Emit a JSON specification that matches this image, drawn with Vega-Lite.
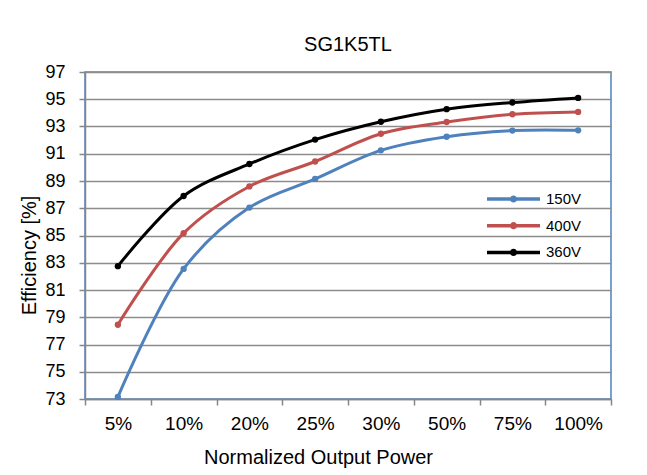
{
  "$schema": "https://vega.github.io/schema/vega-lite/v6.json",
  "width": 526,
  "height": 327,
  "autosize": {"type": "none"},
  "padding": {"left": 85, "top": 72, "right": 36, "bottom": 76},
  "background": "white",
  "title": {
    "text": "SG1K5TL",
    "fontSize": 20,
    "font": "Liberation Sans",
    "fontWeight": "normal",
    "color": "#000000",
    "anchor": "middle",
    "baseline": "alphabetic",
    "offset": 19,
    "dy": 27
  },
  "config": {
    "font": "Liberation Sans",
    "view": {"stroke": "#4F81BD", "strokeWidth": 1.5},
    "axis": {
      "labelFont": "Liberation Sans",
      "titleFont": "Liberation Sans",
      "labelColor": "#000000",
      "titleColor": "#000000",
      "titleFontWeight": "normal",
      "domainColor": "#868686",
      "domainWidth": 1.5,
      "tickColor": "#868686",
      "tickWidth": 1.5,
      "tickSize": 6,
      "gridColor": "#8c8c8c",
      "gridWidth": 1.5,
      "gridOpacity": 1
    },
    "legend": {
      "labelFont": "Liberation Sans",
      "labelFontSize": 15,
      "labelColor": "#000000"
    }
  },
  "data": {
    "values": [
      {"power": "5%", "series": "150V", "eff": 73.15},
      {"power": "10%", "series": "150V", "eff": 82.55},
      {"power": "20%", "series": "150V", "eff": 87.05},
      {"power": "25%", "series": "150V", "eff": 89.15},
      {"power": "30%", "series": "150V", "eff": 91.25},
      {"power": "50%", "series": "150V", "eff": 92.25},
      {"power": "75%", "series": "150V", "eff": 92.7},
      {"power": "100%", "series": "150V", "eff": 92.72},
      {"power": "5%", "series": "400V", "eff": 78.45},
      {"power": "10%", "series": "400V", "eff": 85.17},
      {"power": "20%", "series": "400V", "eff": 88.6},
      {"power": "25%", "series": "400V", "eff": 90.43},
      {"power": "30%", "series": "400V", "eff": 92.47},
      {"power": "50%", "series": "400V", "eff": 93.33},
      {"power": "75%", "series": "400V", "eff": 93.9},
      {"power": "100%", "series": "400V", "eff": 94.07},
      {"power": "5%", "series": "360V", "eff": 82.75},
      {"power": "10%", "series": "360V", "eff": 87.9},
      {"power": "20%", "series": "360V", "eff": 90.25},
      {"power": "25%", "series": "360V", "eff": 92.04},
      {"power": "30%", "series": "360V", "eff": 93.35},
      {"power": "50%", "series": "360V", "eff": 94.27},
      {"power": "75%", "series": "360V", "eff": 94.76},
      {"power": "100%", "series": "360V", "eff": 95.1}
    ]
  },
  "mark": {
    "type": "line",
    "interpolate": "catmull-rom",
    "strokeWidth": 3,
    "point": {"filled": true, "size": 40, "opacity": 1}
  },
  "encoding": {
    "x": {
      "field": "power",
      "type": "ordinal",
      "sort": ["5%", "10%", "20%", "25%", "30%", "50%", "75%", "100%"],
      "bandPosition": 0.5,
      "scale": {"type": "band", "paddingInner": 0, "paddingOuter": 0},
      "axis": {
        "title": "Normalized Output Power",
        "titleFontSize": 20,
        "titleBaseline": "alphabetic",
        "titleX": 233,
        "titleY": 64,
        "labelFontSize": 19,
        "labelAngle": 0,
        "labelPadding": 9,
        "tickBand": "extent",
        "grid": false
      }
    },
    "y": {
      "field": "eff",
      "type": "quantitative",
      "scale": {"domain": [73, 97], "nice": false, "zero": false},
      "axis": {
        "title": "Efficiency [%]",
        "titleFontSize": 20,
        "titleAngle": -90,
        "titleAlign": "center",
        "titleBaseline": "alphabetic",
        "titleX": -50,
        "titleY": 183,
        "labelFontSize": 18,
        "labelPadding": 14,
        "values": [73, 75, 77, 79, 81, 83, 85, 87, 89, 91, 93, 95, 97],
        "grid": true
      }
    },
    "color": {
      "field": "series",
      "type": "nominal",
      "scale": {"domain": ["150V", "400V", "360V"], "range": ["#4F81BD", "#C0504D", "#000000"]},
      "legend": {
        "title": null,
        "orient": "none",
        "legendX": 400,
        "legendY": 114,
        "padding": 0,
        "symbolType": "M-1,0L1,0M-0.07,0a0.07,0.07 0 1,0 0.14,0a0.07,0.07 0 1,0 -0.14,0",
        "symbolSize": 2809,
        "symbolStrokeWidth": 3.5,
        "clipHeight": 26,
        "rowPadding": 0.7,
        "labelOffset": 4,
        "encode": {
          "symbols": {"update": {"fill": {"scale": "color", "field": "value"}, "fillOpacity": {"value": 1}, "opacity": {"value": 1}}}
        }
      }
    }
  }
}
